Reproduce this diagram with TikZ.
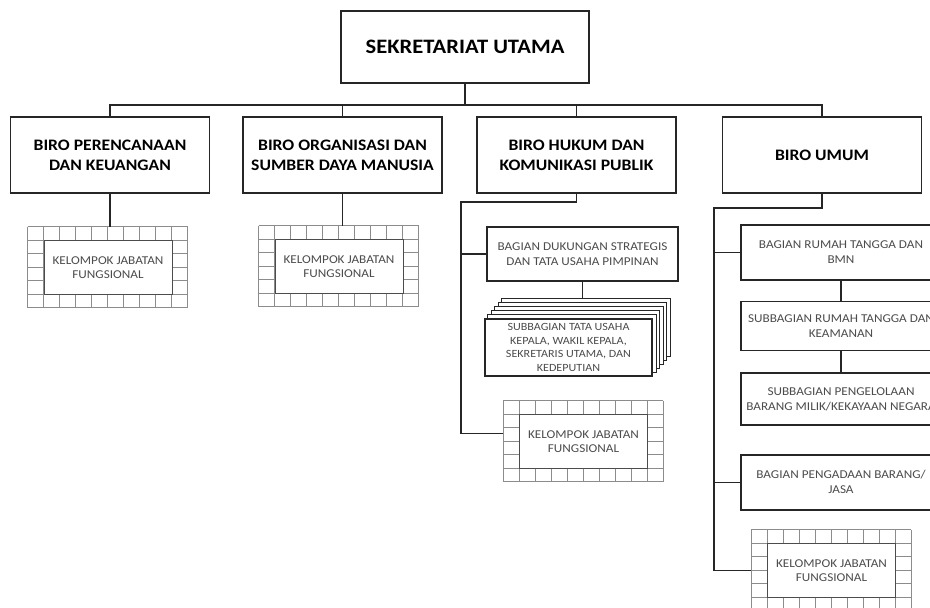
\documentclass[tikz,border=0pt]{standalone}
\usepackage{fontspec}
\setmainfont{Carlito}
\newfontfamily\widefont[FakeStretch=1.1]{Carlito}
\usetikzlibrary{positioning,backgrounds}

\tikzset{
  link/.style={draw=black!85, line width=1.6pt},
  boxline/.style={draw=black!85, line width=1.6pt, fill=white},
  utama/.style={boxline, minimum width=248pt, minimum height=72pt,
    font=\widefont\fontsize{20.5}{24}\selectfont\bfseries},
  biro/.style={boxline, minimum width=199pt, minimum height=76pt, inner sep=2pt,
    align=center, font=\widefont\fontsize{16}{20}\selectfont\bfseries},
  bagian/.style={boxline, minimum width=200pt, inner sep=1pt, align=center,
    text=black!70, font=\widefont\fontsize{12}{15}\selectfont},
  fungsi/.style={draw=black!70, line width=0.8pt, fill=white, minimum width=128pt,
    minimum height=54pt, inner sep=0pt, align=center, text=black!70,
    font=\widefont\fontsize{12}{14}\selectfont},
  gridline/.style={draw=black!45, line width=0.6pt},
}

% grid of cells round a "kelompok jabatan fungsional" box
\newcommand{\fungsigrid}[1]{%
  \begin{scope}[on background layer, shift={(#1.north west)}]
    \foreach \gx in {-16,0,...,144} \draw[gridline] (\gx,-13.5) -- (\gx,67.5);
    \foreach \gy in {-13.5,0,...,67.5} \draw[gridline] (-16,\gy) -- (144,\gy);
  \end{scope}}

\begin{document}
\begin{tikzpicture}[x=1pt, y=-1pt]
  \useasboundingbox (0,0) rectangle (930,608);
  \begin{scope}[on background layer]
    \fill[white] (0,0) rectangle (930,608);
  \end{scope}
  \clip (0,0) rectangle (930,608);

  % Nodes
  \node[utama] (hq) at (465,47) {SEKRETARIAT UTAMA};
  \node[biro]  (b1) at (110,155) {BIRO PERENCANAAN\\DAN KEUANGAN};
  \node[biro]  (b2) at (342.5,155) {BIRO ORGANISASI DAN\\SUMBER DAYA MANUSIA};
  \node[biro]  (b3) at (576.5,155) {BIRO HUKUM DAN\\KOMUNIKASI PUBLIK};
  \node[biro]  (b4) at (822,155) {BIRO UMUM};

  \node[fungsi] (kjf1) at (108,267.5) {KELOMPOK JABATAN\\FUNGSIONAL};
  \node[fungsi] (kjf2) at (339,266.5) {KELOMPOK JABATAN\\FUNGSIONAL};

  \node[bagian, minimum width=191pt, minimum height=54pt] (bdsp) at (582.5,254)
    {BAGIAN DUKUNGAN STRATEGIS\\DAN TATA USAHA PIMPINAN};
  \node[boxline, minimum width=167pt, minimum height=57pt, inner sep=1pt, align=center,
    text=black!70, font=\widefont\fontsize{11}{13.5}\selectfont] (sbtu) at (568.5,347.5)
    {SUBBAGIAN TATA USAHA\\KEPALA, WAKIL KEPALA,\\SEKRETARIS UTAMA, DAN\\KEDEPUTIAN};
  \node[fungsi] (kjf3) at (583.5,441.5) {KELOMPOK JABATAN\\FUNGSIONAL};

  \node[bagian, minimum height=55pt] (brt) at (841,252.5) {BAGIAN RUMAH TANGGA DAN\\BMN};
  \node[bagian, minimum height=49pt, below=20pt of brt] (srt) {SUBBAGIAN RUMAH TANGGA DAN\\KEAMANAN};
  \node[bagian, minimum height=52pt, below=21pt of srt] (spb) {SUBBAGIAN PENGELOLAAN\\BARANG MILIK/KEKAYAAN NEGARA};
  \node[bagian, minimum height=55pt, below=28pt of spb] (bpbj) {BAGIAN PENGADAAN BARANG/\\JASA};
  \node[fungsi] (kjf4) at (831.5,570.5) {KELOMPOK JABATAN\\FUNGSIONAL};

  % stacked copies behind the subbagian box
  \begin{scope}[on background layer]
    \foreach \k in {5,4,3,2,1}
      \draw[boxline, line width=1.2pt]
        ([shift={(3.5*\k pt,4*\k pt)}]sbtu.north west) rectangle
        ([shift={(3.5*\k pt,4*\k pt)}]sbtu.south east);
  \end{scope}
  \fungsigrid{kjf1}
  \fungsigrid{kjf2}
  \fungsigrid{kjf3}
  \fungsigrid{kjf4}

  % Edges
  \coordinate (bus) at (465,105);
  \coordinate (hukumrail) at (461,202);
  \coordinate (umumrail) at (714,208);
  \draw[link] (hq.south) -- (bus);
  \draw[link] (b1.north) |- (bus) -| (b4.north);
  \draw[link] (b2.north) -- (b2.north |- bus);
  \draw[link] (b3.north) -- (b3.north |- bus);
  \draw[link] (b1.south) -- ([yshift=13.5pt]b1.south |- kjf1.north);
  \draw[link] (b2.south) -- ([yshift=13.5pt]b2.south |- kjf2.north);

  \draw[link] (b3.south) |- (hukumrail) |- ([xshift=-16pt,yshift=8pt]kjf3.west);
  \draw[link] (hukumrail |- bdsp.west) -- (bdsp.west);
  \draw[link] (bdsp.south) -- ([yshift=20pt]bdsp.south |- sbtu.north);

  \draw[link] (b4.south) |- (umumrail) |- ([xshift=-16pt]kjf4.west);
  \draw[link] (umumrail |- brt.west) -- (brt.west);
  \draw[link] (umumrail |- bpbj.west) -- (bpbj.west);
  \draw[link] (brt.south) -- (srt.north);
  \draw[link] (srt.south) -- (spb.north);
\end{tikzpicture}
\end{document}
